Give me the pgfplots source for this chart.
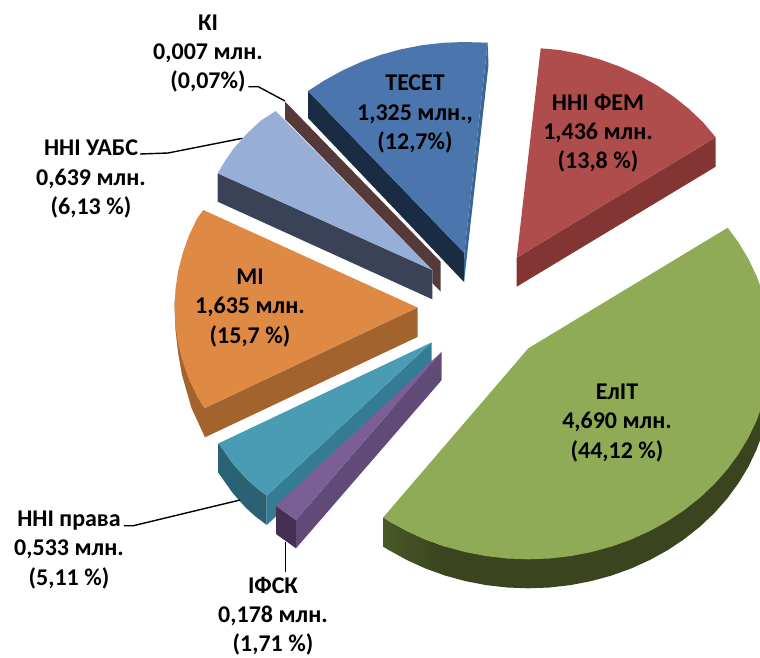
\documentclass[border=0pt]{standalone}
\usepackage{fontspec}
\setmainfont{Carlito}
\usepackage{pgfplots}
\pgfplotsset{compat=1.18}
\definecolor{grT}{HTML}{8FAB55}\definecolor{grD}{HTML}{3A441F}\definecolor{grL}{HTML}{4A5828}
\definecolor{reT}{HTML}{AE4D4B}\definecolor{reD}{HTML}{833533}
\definecolor{blT}{HTML}{4A76AD}\definecolor{blD}{HTML}{1A2C44}\definecolor{blS}{HTML}{3A6698}
\definecolor{brD}{HTML}{563A3A}
\definecolor{peT}{HTML}{97AED6}\definecolor{peD}{HTML}{3A4257}
\definecolor{orT}{HTML}{DE8944}\definecolor{orD}{HTML}{A2632C}
\definecolor{teT}{HTML}{4A9CB5}\definecolor{teS}{HTML}{347C94}\definecolor{teD}{HTML}{2A6072}
\definecolor{puT}{HTML}{7B5E94}\definecolor{puS}{HTML}{5F4A78}\definecolor{puD}{HTML}{452F55}
\tikzset{lab/.style={align=center,font=\fontsize{24}{29.3}\selectfont\bfseries,text=black,inner sep=0pt}}
\begin{document}
\begin{tikzpicture}
\begin{axis}[scale only axis,width=760pt,height=657pt,xmin=0,xmax=760,ymin=0,ymax=657,y dir=reverse,hide axis]
\path (axis cs:0,0) rectangle (axis cs:760,657);
% EliT
\addplot[fill=grD,draw=none] coordinates {(445.2,546.6)(445.2,575.6)(465.4,581.1)(486.1,585.1)(507.2,587.5)(528.3,588.3)(549.4,587.5)(570.5,585.1)(591.2,581.1)(611.4,575.6)(631.1,568.5)(649.8,560)(667.8,550.1)(684.5,538.9)(700.1,526.5)(714.4,513)(727.3,498.4)(738.7,482.8)(748.5,466.5)(756.6,449.5)(763,431.9)(767.6,414)(770.3,395.7)(771.3,377.3)(771.3,348.3)(528,400)} -- cycle;
\addplot[left color=grL,right color=grD,draw=none] coordinates {(383.3,517.3)(383.3,546.7)(388.8,550.1)(406.8,560)(425.5,568.5)(445.2,575.6)(445.2,546.6)(425.5,539.5)(406.8,531)(388.8,521.1)} -- cycle;
\addplot[fill=grT,draw=none] coordinates {(383.3,517.3)(528.3,348.3)(727.7,227.7)(738.7,242.8)(748.5,259.1)(756.6,276.1)(763,293.7)(767.6,311.7)(770.3,329.9)(771.3,348.3)(770.3,366.7)(767.6,385)(763,402.9)(756.6,420.5)(748.5,437.5)(738.7,453.8)(727.3,469.4)(714.4,484)(700.1,497.5)(684.5,509.9)(667.8,521.1)(649.8,531)(631.1,539.5)(611.4,546.6)(591.2,552.1)(570.5,556.1)(549.4,558.5)(528.3,559.3)(507.2,558.5)(486.1,556.1)(465.4,552.1)(445.2,546.6)(425.5,539.5)(406.8,531)(388.8,521.1)} -- cycle;
% FEM
\addplot[fill=reD,draw=none] coordinates {(516.7,257.7)(516.7,286.7)(715.7,166.7)(715.7,137.3)} -- cycle;
\addplot[fill=reT,draw=none] coordinates {(540.7,48.3)(559,49.9)(579.6,53.9)(599.8,59.4)(619.5,66.5)(638.2,75)(656.2,84.9)(672.9,96.1)(688.5,108.5)(702.8,122)(715.7,137.3)(516.7,257.7)} -- cycle;
% TESET
\addplot[fill=blD,draw=none] coordinates {(308,91)(464.3,253)(464,282)(308,118)} -- cycle;
\addplot[fill=blS,draw=none] coordinates {(487.7,42.7)(488.5,65)(464,282)(464.3,253)} -- cycle;
\addplot[fill=blT,draw=none] coordinates {(308,91)(324.8,80.2)(342.8,70.3)(361.5,61.8)(381.2,54.7)(401.4,49.2)(422,45.2)(443.2,42.8)(464.3,42)(487.7,42.7)(464.3,253)} -- cycle;
% KI
\addplot[fill=brD,draw=none] coordinates {(285,101.5)(440.7,261.7)(440.7,291.7)(432.3,283)(432.3,270)(285,119)} -- cycle;
% UABS
\addplot[fill=peD,draw=none] coordinates {(217.7,173.3)(217.7,201.7)(432.3,299.3)(432.3,270)} -- cycle;
\addplot[fill=peT,draw=none] coordinates {(217.7,173.3)(225,161)(233.3,148.9)(246.2,134.3)(260.5,120.8)(275.7,111)(432.3,270)} -- cycle;
% MI
\addplot[fill=orD,draw=none] coordinates {(174.6,300)(174.8,312)(175.5,330)(178,352)(182,375)(191.5,408)(205,437.3)(417.5,337)(417.5,307.5)(204.3,408.3)} -- cycle;
\addplot[fill=orT,draw=none] coordinates {(203.3,210)(197.3,218.2)(189.1,235.3)(182.8,252.9)(178.2,270.8)(175.5,289.1)(174.5,307.5)(175.5,325.9)(178.2,344.2)(182.8,362.1)(189.1,379.7)(197.3,396.8)(204.3,408.3)(417.5,307.5)} -- cycle;
% Prava
\addplot[left color=teS!80!black,right color=teD,draw=none] coordinates {(218.7,443.3)(218.7,473.3)(232.7,493)(245.6,507.6)(255.5,516.5)(266.7,525)(266.7,495.7)(255.5,487)(245.6,478)(232.7,463.4)} -- cycle;
\addplot[fill=teS,draw=none] coordinates {(431.7,342.3)(431.7,372)(266.7,525)(266.7,495.7)} -- cycle;
\addplot[fill=teT,draw=none] coordinates {(431.7,342.3)(218.7,443.3)(232.7,463.4)(245.6,478)(255.5,487)(266.7,495.7)} -- cycle;
% IFSK
\addplot[fill=puD,draw=none] coordinates {(276,506)(276,534)(296,548.3)(296,520)} -- cycle;
\addplot[fill=puS,draw=none] coordinates {(441.7,351.7)(441.7,380)(296,548.3)(296,520)} -- cycle;
\addplot[fill=puT,draw=none] coordinates {(441.7,351.7)(276,506)(296,520)} -- cycle;
% leaders
\addplot[black,line width=1.4pt] coordinates {(248.3,86.7)(258.3,86.7)(285,101)};
\addplot[black,line width=1.4pt] coordinates {(140,154)(168,153)(242.3,138.3)};
\addplot[black,line width=1.4pt] coordinates {(124,525.7)(133.3,525.7)(240,500)};
\addplot[black,line width=1.4pt] coordinates {(285.3,541.7)(285.3,571.7)};
% labels
\node[lab] at (axis cs:208,53.5) {КІ\\0,007 млн.\\(0,07\%)};
\node[lab] at (axis cs:415,114) {ТЕСЕТ\\1,325 млн.,\\(12,7\%)};
\node[lab] at (axis cs:598,133) {ННІ ФЕМ\\1,436 млн.\\(13,8 \%)};
\node[lab] at (axis cs:91,179) {ННІ УАБС\\0,639 млн.\\(6,13 \%)};
\node[lab] at (axis cs:250,308) {МІ\\1,635 млн.\\(15,7 \%)};
\node[lab] at (axis cs:617,423) {ЕлІТ\\4,690 млн.\\(44,12 \%)};
\node[lab] at (axis cs:69,550) {ННІ права\\0,533 млн.\\(5,11 \%)};
\node[lab] at (axis cs:273,616) {ІФСК\\0,178 млн.\\(1,71 \%)};
\end{axis}
\end{tikzpicture}
\end{document}
